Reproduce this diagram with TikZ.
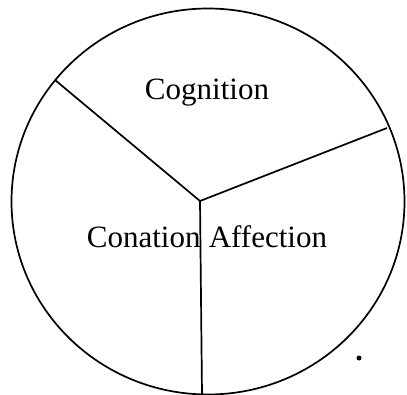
\documentclass[tikz,border=0pt]{standalone}
\usepackage{fontspec}
\setmainfont{Liberation Serif}

\begin{document}
\begin{tikzpicture}[x=1pt, y=-1pt, line width=1.7pt,
  every node/.style={inner sep=0pt, font=\fontsize{31}{36}\selectfont}]
  \useasboundingbox (0,0) rectangle (407,395);

  % Outer circle (slightly squashed, as in the scan)
  \draw (208,201.5) ellipse [x radius=196.5pt, y radius=193pt];

  % Hub and spoke ends
  \coordinate (hub) at (200,201);
  \coordinate (endL) at (55,80);
  \coordinate (endR) at (387,128);
  \coordinate (endB) at (202,394);

  % Spokes dividing the three parts
  \draw (hub) -- (endL);
  \draw (hub) -- (endR);
  \draw (hub) -- (endB);

  % Labels
  \node[anchor=base] (cog) at (207,100) {Cognition};
  \node[anchor=base west] (con) at (86,248) {Conation};
  \node[anchor=base west] (aff) at (208,248) {Affection};

  % Small dot
  \fill (359,358) circle [radius=2.5pt];

\end{tikzpicture}
\end{document}
